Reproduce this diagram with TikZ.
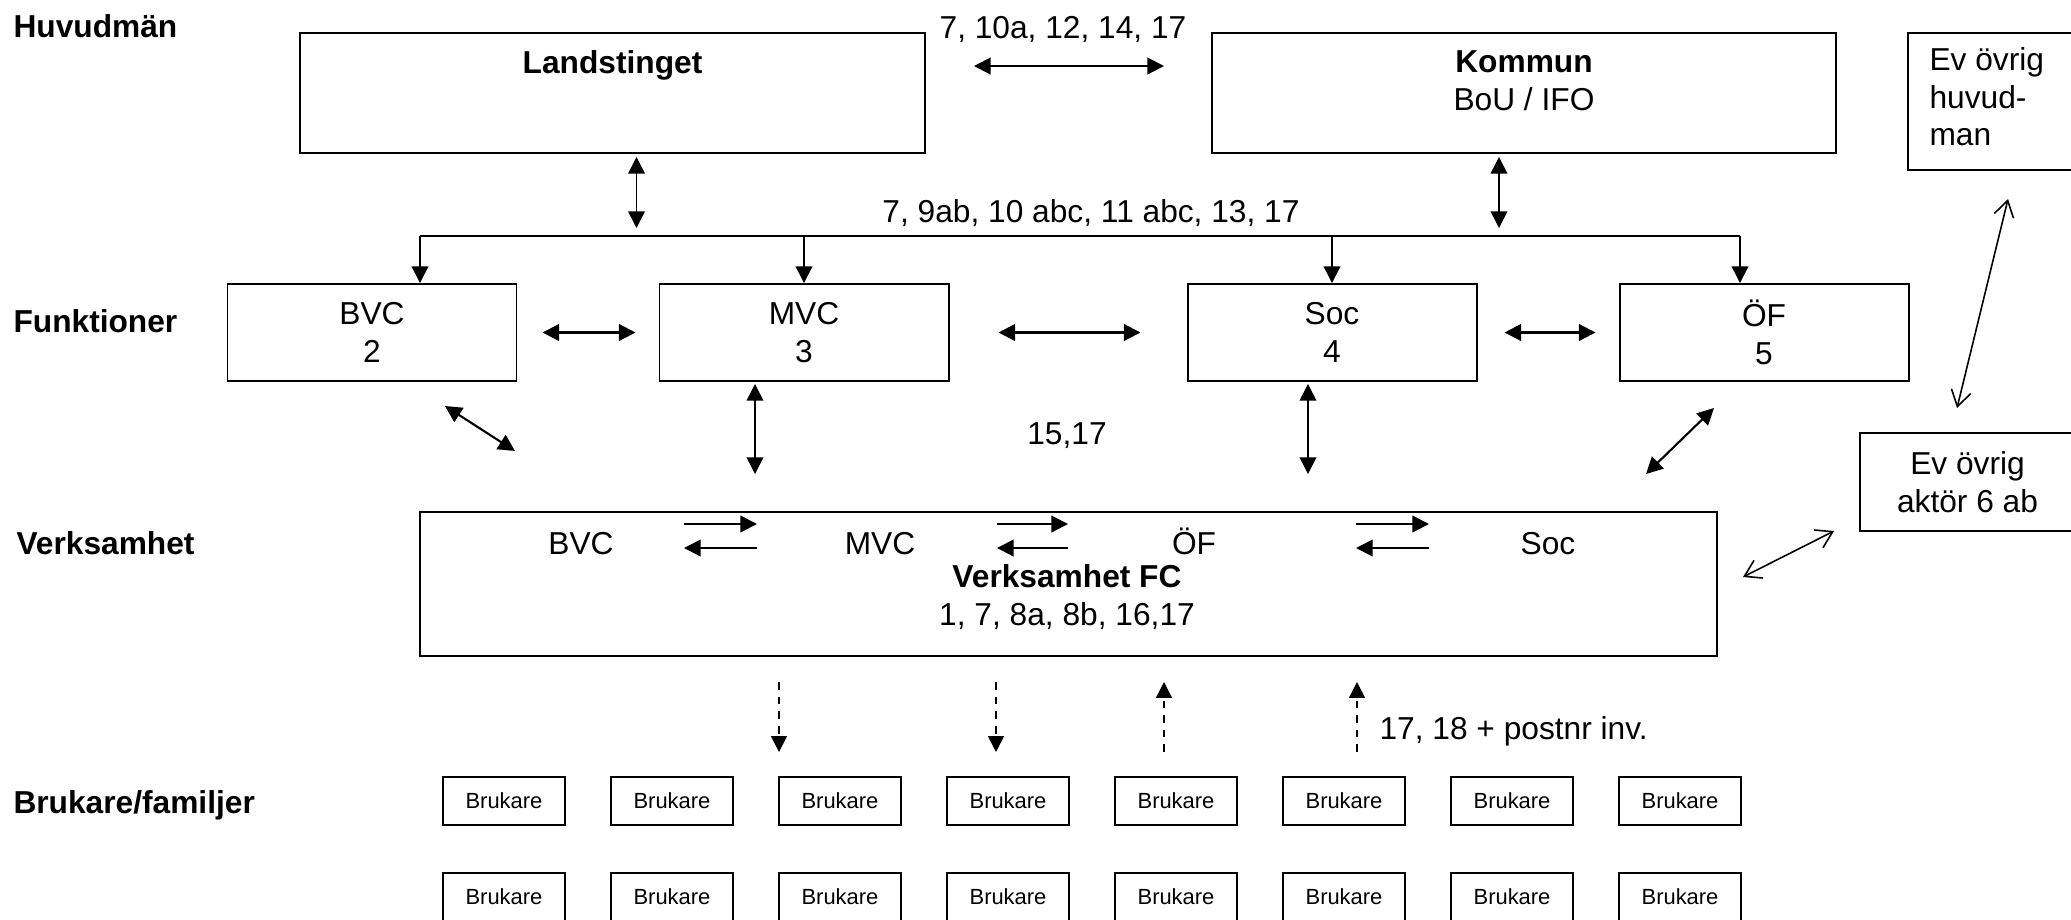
\documentclass[tikz,border=0pt]{standalone}
\usepackage{fontspec}
\setmainfont{Liberation Sans}
\usetikzlibrary{arrows.meta}
\usetikzlibrary{calc}
\usetikzlibrary{positioning}

\newcommand{\pxu}{0.0133cm}
\newcommand{\mainsize}{\fontsize{12}{14.2}\selectfont}
\tikzset{
  box/.style={draw, line width=0.75pt, inner sep=0pt},
  fbox/.style={box, minimum width=289*\pxu, minimum height=97*\pxu, align=center},
  brk/.style={box, minimum width=122*\pxu, minimum height=48*\pxu, font=\fontsize{8.3}{10}\selectfont},
  lvl/.style={anchor=base west, inner sep=0pt, font=\mainsize\bfseries},
  dbl/.style={{Triangle[length=6.3pt,width=6.3pt]}-{Triangle[length=6.3pt,width=6.3pt]}, line width=0.6pt},
  sgl/.style={-{Triangle[length=6.3pt,width=6.3pt]}, line width=0.6pt},
  barb/.style={{Straight Barb[length=6pt,width=7.5pt]}-{Straight Barb[length=6pt,width=7.5pt]}, line width=0.6pt},
  dsh/.style={-{Triangle[length=6pt,width=6pt]}, line width=0.6pt, dash pattern=on 3pt off 2.5pt},
}

\begin{document}
\begin{tikzpicture}[x=\pxu, y=-\pxu, font=\mainsize]
    % frame
    \useasboundingbox (0,0) rectangle (2071,919);
    \clip (0,0) rectangle (2071,919);

    % levels
    \node[lvl] (hlab) at (13,37.5) {Huvudmän};
    \node[lvl] (flab) at (13,332) {Funktioner};
    \node[lvl] (vlab) at (16,554) {Verksamhet};
    \node[lvl] (blab) at (13,813) {Brukare/familjer};

    % huvudmän
    \node[box, minimum width=625*\pxu, minimum height=120*\pxu] (land) at (612.5,93) {};
    \node[anchor=base, inner sep=0pt, font=\mainsize\bfseries] (landt) at (612.5,73) {Landstinget};
    \node[box, minimum width=624*\pxu, minimum height=120*\pxu] (komm) at (1524,93) {};
    \node[align=center, inner sep=0pt] (kommt) at (1524,80.5) {\textbf{Kommun}\\BoU / IFO};
    \node[box, minimum width=180*\pxu, minimum height=137*\pxu] (ovhm) at (1998,101.5) {};
    \node[anchor=north west, align=left, inner sep=0pt] (ovhmt) at (1929,47) {Ev övrig\\huvud-\\man};

    \node[anchor=base, inner sep=0pt] (toplab) at (1063,38) {7, 10a, 12, 14, 17};
    \draw[dbl, line width=0.8pt] ($(land.north east)+(48,34)$) -- ($(komm.north west)+(-47,34)$);

    % funktioner
    \node[fbox] (bvc) at (372,332.5) {BVC\\2};
    \node[fbox] (mvc) at (804,332.5) {MVC\\3};
    \node[fbox] (soc) at (1332,332.5) {Soc\\4};
    \node[fbox] (of) at (1764,332.5) {ÖF\\5};

    % bus
    \coordinate (busl) at (420,236);
    \coordinate (busr) at (1740,236);
    \node[anchor=base, inner sep=0pt] (buslab) at (1091,222) {7, 9ab, 10 abc, 11 abc, 13, 17};
    \draw[line width=0.6pt] (busl) -- (busr);
    \draw[sgl] (busl) -- (busl |- bvc.north);
    \draw[sgl] (mvc.north |- busl) -- (mvc.north);
    \draw[sgl] (soc.north |- busl) -- (soc.north);
    \draw[sgl] (busr) -- (busr |- of.north);
    \draw[dbl] ($(land.south)+(24,3)$) -- ($(land.south)+(24,74)$);
    \draw[dbl] ($(komm.south)+(-25,3)$) -- ($(komm.south)+(-25,74)$);

    \draw[dbl, line width=0.8pt] ($(bvc.east)+(25,0)$) -- ($(mvc.west)+(-23,0)$);
    \draw[dbl, line width=0.8pt] ($(mvc.east)+(49,0)$) -- ($(soc.west)+(-46,0)$);
    \draw[dbl, line width=0.8pt] ($(soc.east)+(27,0)$) -- ($(of.west)+(-23,0)$);

    % verksamhet
    \node[box, minimum width=1297*\pxu, minimum height=144*\pxu] (fc) at (1068.5,584) {};
    \node[anchor=base] (fcbvc) at (581,554) {BVC};
    \node[anchor=base] (fcmvc) at (880,554) {MVC};
    \node[anchor=base] (fcof) at (1194,554) {ÖF};
    \node[anchor=base] (fcsoc) at (1548,554) {Soc};
    \node[align=center, inner sep=0pt] (fct) at (1067,597) {\textbf{Verksamhet FC}\\1, 7, 8a, 8b, 16,17};
    \foreach \a/\b in {684/757, 997/1068, 1356/1429} {
      \draw[sgl, line width=0.8pt] (\a,524) -- (\b,524);
      \draw[sgl, line width=0.8pt] (\b,548) -- (\a,548);
    }

    \node[anchor=base, inner sep=0pt] (midlab) at (1067,444) {15,17};
    \draw[dbl, line width=0.8pt] ($(bvc.south)+(73,24)$) -- ($(bvc.south)+(143,69)$);
    \draw[dbl] ($(mvc.south)+(-49,2)$) -- ($(mvc.south)+(-49,92)$);
    \draw[dbl] ($(soc.south)+(-24,2)$) -- ($(soc.south)+(-24,92)$);
    \draw[dbl, line width=0.8pt] ($(of.south)+(-50,26)$) -- ($(of.south)+(-118,92)$);

    % övrig aktör
    \node[box, minimum width=215*\pxu, minimum height=98*\pxu, align=center] (ovak) at (1967.5,482) {Ev övrig\\aktör 6 ab};
    \draw[barb] ($(ovhm.south)+(10,28)$) -- ($(ovak.north)+(-10.5,-24)$);
    \draw[barb] ($(fc.east)+(25,-7)$) -- ($(ovak.west)+(-25,49)$);

    % brukare
    \foreach \x in {779,996} \draw[dsh] (\x,682) -- (\x,752);
    \foreach \x in {1164,1357} \draw[dsh] (\x,752) -- (\x,682);
    \node[anchor=base west, inner sep=0pt] (invlab) at (1379,739.5) {17, 18 + postnr inv.};
    \foreach \i in {0,...,7} {
      \node[brk] (bru\i) at (504+168*\i,801) {Brukare};
      \node[brk] (brl\i) at (504+168*\i,897) {Brukare};
    }

\end{tikzpicture}
\end{document}
